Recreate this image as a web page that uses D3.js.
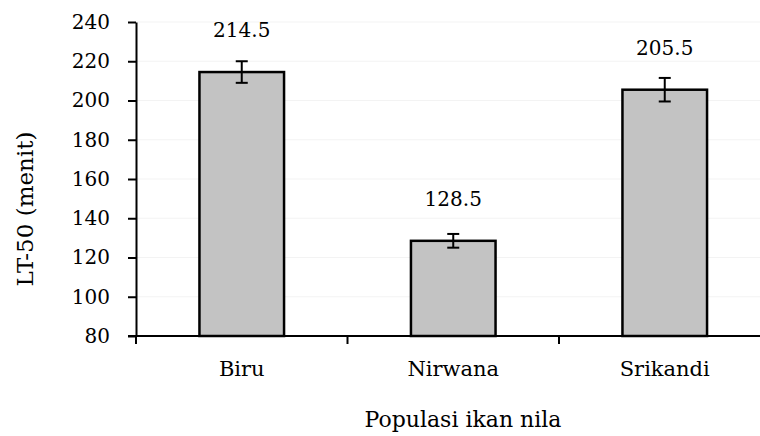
<!DOCTYPE html>
<meta charset="utf-8">
<script src="https://d3js.org/d3.v7.min.js"></script>
<style>
    body { margin: 0; background: white; }
    text { font-family: "DejaVu Serif", serif; fill: black; }
</style>
<div id="chart"></div>
<script>
    // data
    var populasi = ["Biru", "Nirwana", "Srikandi"];
    var lt50 = [214.5, 128.5, 205.5];
    var galat = [5.5, 3.5, 6.0];
    var yTicks = [80, 100, 120, 140, 160, 180, 200, 220, 240];

    var W = 760, H = 436;
    var plotLeft = 136, plotTop = 22, plotBottom = 336;
    var bandW = 211.5;

    var svg = d3.select("#chart").append("svg")
        .attr("width", W).attr("height", H);

    var y = d3.scaleLinear().domain([80, 240]).range([plotBottom, plotTop]);
    var x = d3.scaleBand().domain(populasi)
        .range([plotLeft, plotLeft + bandW * populasi.length])
        .paddingInner(0.6).paddingOuter(0.3);

    // faint gridlines
    svg.append("g").selectAll("line")
        .data(yTicks.slice(1))
        .enter().append("line")
        .attr("x1", plotLeft).attr("x2", W)
        .attr("y1", function(d) { return y(d); })
        .attr("y2", function(d) { return y(d); })
        .style("stroke", "#f3f3f3").style("stroke-width", 1);

    // bars
    svg.append("g").selectAll("rect")
        .data(lt50)
        .enter().append("rect")
        .attr("x", function(d, i) { return x(populasi[i]); })
        .attr("y", function(d) { return y(d); })
        .attr("width", x.bandwidth())
        .attr("height", function(d) { return plotBottom - y(d); })
        .style("fill", "#c3c3c3")
        .style("stroke", "black").style("stroke-width", 2.5);

    // error bars
    var eb = svg.append("g").style("stroke", "black").style("stroke-width", 2);
    lt50.forEach(function(v, i) {
        var cx = x(populasi[i]) + x.bandwidth() / 2;
        eb.append("line").attr("x1", cx).attr("x2", cx)
            .attr("y1", y(v + galat[i])).attr("y2", y(v - galat[i]));
        [v + galat[i], v - galat[i]].forEach(function(e) {
            eb.append("line").attr("x1", cx - 6).attr("x2", cx + 6)
                .attr("y1", y(e)).attr("y2", y(e));
        });
    });

    // value labels
    svg.append("g").selectAll("text")
        .data(lt50)
        .enter().append("text")
        .attr("x", function(d, i) { return x(populasi[i]) + x.bandwidth() / 2; })
        .attr("y", function(d, i) { return y(d) - 35; })
        .attr("text-anchor", "middle")
        .style("font-size", "20px")
        .text(function(d) { return d.toFixed(1); });

    // y axis
    var yAxis = svg.append("g")
        .attr("transform", "translate(" + plotLeft + ",0)")
        .call(d3.axisLeft(y).tickValues(yTicks).tickSize(8).tickPadding(18).tickSizeOuter(0));
    yAxis.selectAll("path, line").style("stroke", "black").style("stroke-width", 2);
    yAxis.selectAll("text").style("font-size", "20px").style("font-family", "DejaVu Serif");

    // x axis
    var xb = d3.scaleLinear().domain([0, populasi.length]).range([plotLeft, plotLeft + bandW * populasi.length]);
    var xAxis = svg.append("g")
        .attr("transform", "translate(0," + plotBottom + ")");
    xAxis.append("line")
        .attr("x1", plotLeft - 8).attr("x2", xb(populasi.length))
        .style("stroke", "black").style("stroke-width", 2);
    xAxis.selectAll(".tk")
        .data(d3.range(populasi.length + 1))
        .enter().append("line")
        .attr("class", "tk")
        .attr("x1", function(d) { return xb(d); })
        .attr("x2", function(d) { return xb(d); })
        .attr("y1", 0).attr("y2", 8)
        .style("stroke", "black").style("stroke-width", 2);
    xAxis.selectAll(".lbl")
        .data(populasi)
        .enter().append("text")
        .attr("class", "lbl")
        .attr("x", function(d) { return x(d) + x.bandwidth() / 2; })
        .attr("y", 40)
        .attr("text-anchor", "middle")
        .style("font-size", "21px")
        .text(function(d) { return d; });

    // axis titles
    svg.append("text")
        .attr("x", 463)
        .attr("y", 427)
        .attr("text-anchor", "middle")
        .style("font-size", "22px")
        .text("Populasi ikan nila");

    svg.append("text")
        .attr("transform", "translate(33,209) rotate(-90)")
        .attr("text-anchor", "middle")
        .style("font-size", "23px")
        .text("LT-50 (menit)");
</script>
